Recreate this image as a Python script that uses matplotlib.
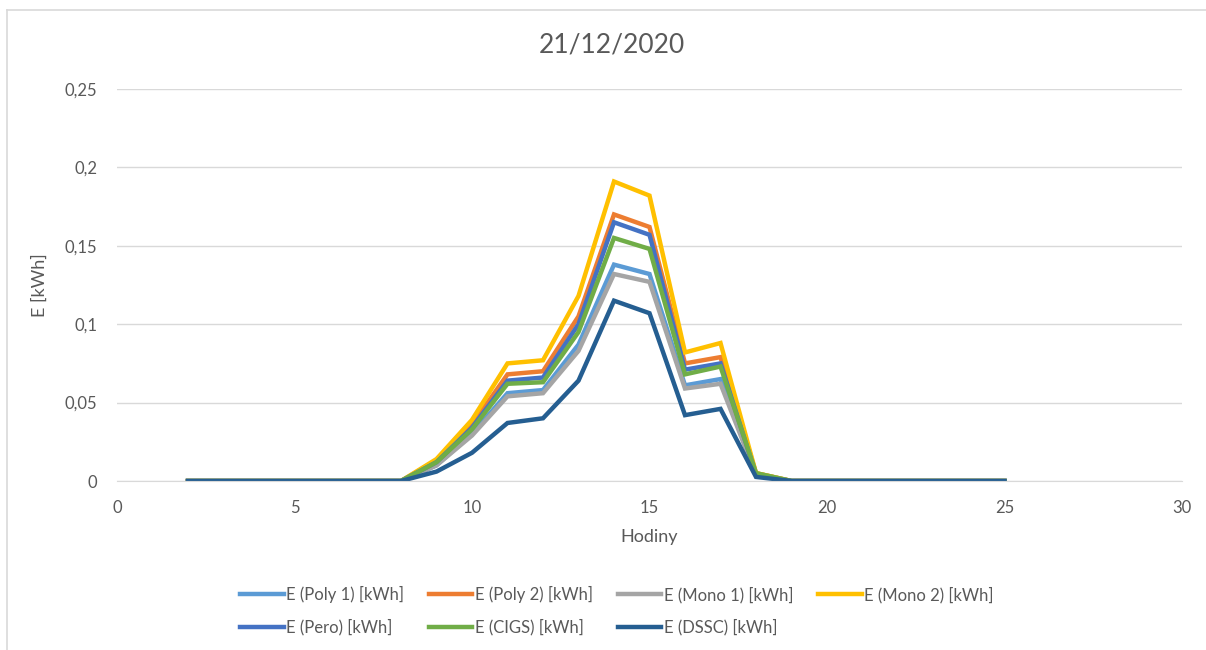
import matplotlib
matplotlib.use("Agg")
import matplotlib.pyplot as plt
from matplotlib.lines import Line2D
from matplotlib.ticker import FuncFormatter

plt.rcParams['font.family'] = ['Lato', 'DejaVu Sans']

hours = list(range(2, 26))
# values for hours 2..25
zeros_before = [0.0] * 6   # hours 2..7
zeros_after = [0.0] * 7    # hours 19..25
poly1 = zeros_before + [0.0, 0.010, 0.030, 0.056, 0.058, 0.087, 0.138, 0.132, 0.061, 0.065, 0.004] + zeros_after
poly2 = zeros_before + [0.0, 0.013, 0.036, 0.068, 0.070, 0.105, 0.170, 0.162, 0.075, 0.079, 0.005] + zeros_after
mono1 = zeros_before + [0.0, 0.010, 0.029, 0.054, 0.056, 0.083, 0.132, 0.127, 0.059, 0.062, 0.004] + zeros_after
mono2 = zeros_before + [0.0, 0.014, 0.039, 0.075, 0.077, 0.118, 0.191, 0.182, 0.082, 0.088, 0.005] + zeros_after
pero = zeros_before + [0.0, 0.012, 0.034, 0.064, 0.066, 0.100, 0.165, 0.157, 0.071, 0.075, 0.004] + zeros_after
cigs = zeros_before + [0.0, 0.012, 0.033, 0.062, 0.063, 0.095, 0.155, 0.148, 0.068, 0.073, 0.005] + zeros_after
dssc = zeros_before + [0.0, 0.006, 0.018, 0.037, 0.040, 0.064, 0.115, 0.107, 0.042, 0.046, 0.0026] + zeros_after

series = [
    ("E (Poly 1) [kWh]", poly1, "#5B9BD5"),
    ("E (Poly 2) [kWh]", poly2, "#ED7D31"),
    ("E (Mono 1) [kWh]", mono1, "#A5A5A5"),
    ("E (Mono 2) [kWh]", mono2, "#FFC000"),
    ("E (Pero) [kWh]", pero, "#4472C4"),
    ("E (CIGS) [kWh]", cigs, "#70AD47"),
    ("E (DSSC) [kWh]", dssc, "#255E91"),
]

title = "21/12/2020"
xlabel = "Hodiny"
ylabel = "E [kWh]"

fig = plt.figure(figsize=(12.06, 6.5), dpi=100)
ax = fig.add_axes([117/1206, 169/650, (1182-117)/1206, (481-89)/650])

handles = []
for name, vals, col in series:
    h, = ax.plot(hours, vals, color=col, lw=3.2, label=name, solid_joinstyle='miter')
    handles.append(h)

ax.set_xlim(0, 30)
ax.set_ylim(0, 0.25)
ax.set_xticks([0, 5, 10, 15, 20, 25, 30])
ax.set_yticks([0, 0.05, 0.1, 0.15, 0.2, 0.25])
ax.yaxis.set_major_formatter(FuncFormatter(lambda v, p: ("%g" % round(v, 3)).replace('.', ',')))
ax.grid(axis='y', color='#D9D9D9', lw=1)
ax.set_axisbelow(True)
for s in ['top', 'right', 'left']:
    ax.spines[s].set_visible(False)
ax.spines['bottom'].set_color('#D9D9D9')
ax.tick_params(length=0, labelsize=12, colors='#595959')
ax.tick_params(axis='x', pad=14)
ax.tick_params(axis='y', pad=14)
ax.set_xlabel(xlabel, fontsize=13, color='#595959')
ax.set_ylabel(ylabel, fontsize=13, color='#595959')
ax.xaxis.set_label_coords(0.5, (481 - 537) / 392, transform=ax.transAxes)
ax.yaxis.set_label_coords((40 - 117) / 1065, 0.5, transform=ax.transAxes)
ax.xaxis.label.set_va('center')
ax.yaxis.label.set_va('center')
fig.text(612/1206, 1 - 45/650, title, ha='center', va='center', fontsize=19, color='#595959')

order = [0, 4, 1, 5, 2, 6, 3]
leg = fig.legend([handles[i] for i in order], [series[i][0] for i in order],
                 ncol=4, loc='center', bbox_to_anchor=(617/1206, 1 - 611/650),
                 frameon=False, fontsize=12, handlelength=2.6, handletextpad=0.15,
                 columnspacing=1.5, labelspacing=0.95)
for t in leg.get_texts():
    t.set_color('#595959')

# outer chart border (cropped)
fig.add_artist(Line2D([7/1206, 1], [1 - 10/650, 1 - 10/650], color='#D9D9D9', lw=1.2, transform=fig.transFigure))
fig.add_artist(Line2D([7/1206, 7/1206], [0, 1 - 10/650], color='#D9D9D9', lw=1.2, transform=fig.transFigure))

fig.savefig("out.png", dpi=100)
